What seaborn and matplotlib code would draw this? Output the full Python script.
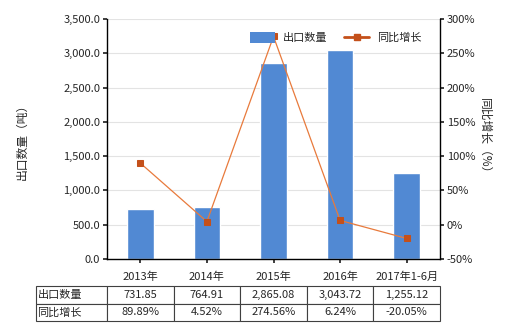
import matplotlib
matplotlib.use("Agg")
import matplotlib.pyplot as plt
import matplotlib.patches as mpatches
import seaborn as sns
import pandas as pd
import numpy as np

categories = ["2013年", "2014年", "2015年", "2016年", "2017年1-6月"]
export_qty = [731.85, 764.91, 2865.08, 3043.72, 1255.12]
yoy_growth = [89.89, 4.52, 274.56, 6.24, -20.05]
qty_labels = ["731.85", "764.91", "2,865.08", "3,043.72", "1,255.12"]
growth_labels = ["89.89%", "4.52%", "274.56%", "6.24%", "-20.05%"]
series_names = ["出口数量", "同比增长"]

sns.set_theme(style="white")
plt.rcParams['font.family'] = ['Noto Sans CJK SC', 'DejaVu Sans']
plt.rcParams['axes.unicode_minus'] = False

df = pd.DataFrame({"cat": categories, "qty": export_qty, "yoy": yoy_growth})
df["x"] = np.arange(len(categories))

fig = plt.figure(figsize=(5.2, 3.3), dpi=100)
ax = fig.add_axes([107/520, 1-259/330, 333/520, 240/330])

bar_color = "#5189d3"
line_color = "#e87a3c"
marker_color = "#c4501a"
fs = 8

sns.barplot(data=df, x="cat", y="qty", ax=ax, color=bar_color, width=0.4,
            saturation=1, zorder=2)
if ax.get_legend() is not None:
    ax.get_legend().remove()
ax.set_xlim(-0.5, 4.5)
ax.set_ylim(0, 3500)
ax.set_yticks(np.arange(0, 3501, 500))
ax.set_yticklabels([f"{v:,.1f}" for v in np.arange(0, 3501, 500)], fontsize=fs)
ax.yaxis.grid(True, color="#e3e3e3", linewidth=0.8, zorder=0)
ax.set_axisbelow(True)
ax.set_xlabel("")
ax.set_ylabel("出口数量（吨）", fontsize=fs + 0.5)
ax.yaxis.set_label_coords(-0.235, 0.5)
ax.tick_params(axis="x", labelsize=fs, length=3, direction="out", bottom=True, pad=6)
ax.tick_params(axis="y", length=3, direction="out", left=True, pad=2)
for s in ["top", "right"]:
    ax.spines[s].set_visible(False)
for s in ["left", "bottom"]:
    ax.spines[s].set_color("black")
    ax.spines[s].set_linewidth(1)

ax2 = ax.twinx()
sns.lineplot(data=df, x="x", y="yoy", ax=ax2, color=line_color, linewidth=0.9,
             marker="s", markersize=5, markerfacecolor=marker_color,
             markeredgecolor=marker_color, legend=False, zorder=3)
ax2.set_ylim(-50, 300)
ax2.set_yticks(np.arange(-50, 301, 50))
ax2.set_yticklabels([f"{v}%" for v in range(-50, 301, 50)], fontsize=fs)
ax2.set_ylabel("同比增长（%）", fontsize=fs + 0.5, rotation=-90)
ax2.yaxis.set_label_coords(1.155, 0.5)
ax2.tick_params(axis="y", length=3, direction="out", right=True, pad=2)
for s in ["top", "left", "bottom"]:
    ax2.spines[s].set_visible(False)
ax2.spines["right"].set_color("black")
ax2.spines["right"].set_linewidth(1)
ax2.grid(False)
ax2.set_xlim(-0.5, 4.5)

bar_handle = mpatches.Patch(facecolor=bar_color, edgecolor="none")
line_handle = plt.Line2D([], [], color=marker_color, linewidth=2, marker="s",
                         markersize=4, markerfacecolor=marker_color,
                         markeredgecolor=marker_color)
leg = ax2.legend([bar_handle, line_handle], series_names, loc="upper right",
                 bbox_to_anchor=(0.943, 0.945), ncol=2, frameon=False, fontsize=fs,
                 handlelength=2.3, handleheight=1.1, columnspacing=1.5,
                 handletextpad=0.65, borderaxespad=0, borderpad=0)
leg.set_zorder(10)

# table
cell_text = [[series_names[0]] + qty_labels, [series_names[1]] + growth_labels]
col_w = [71] + [66.6] * 5
tot = sum(col_w)
tbl = ax.table(cellText=cell_text, colWidths=[w / tot for w in col_w],
               bbox=[(36 - 107) / 333, (259 - 321) / 240, tot / 333, 35 / 240],
               cellLoc="center")
tbl.auto_set_font_size(False)
tbl.set_fontsize(fs)
for (r, c), cell in tbl.get_celld().items():
    cell.set_edgecolor("#404040")
    cell.set_linewidth(0.8)
    if c == 0:
        cell.set_text_props(ha="left")
        cell.PAD = 0.02

fig.savefig("out.png", dpi=100)
